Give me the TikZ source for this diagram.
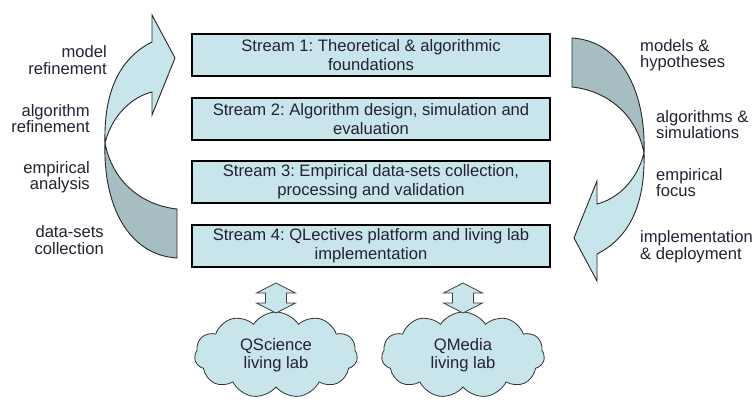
\documentclass[tikz,border=0pt]{standalone}
\usepackage{fontspec}
\setmainfont{Liberation Sans}
\usetikzlibrary{shapes.symbols}
\definecolor{lightfill}{RGB}{199,229,234}
\definecolor{darkfill}{RGB}{166,190,193}
\definecolor{txtcol}{RGB}{38,32,52}
\newcommand\qlightpart{(105,143) .. controls (104,105) and (112,62) .. (152,42) -- (152,15) -- (175,58) -- (152,115) -- (152,92) .. controls (132,97) and (112,115) .. (105,143) -- cycle}
\newcommand\qdarkpart{(105,143) .. controls (103,205) and (128,255) .. (177,258) -- (177,209) .. controls (140,205) and (112,180) .. (105,143) -- cycle}
\newcommand\qdblarrow[1]{(#1,283) -- ++(19.5,10) -- ++(-9,0) -- ++(0,10) -- ++(9,0) -- (#1,313) -- ++(-19.5,-10) -- ++(9,0) -- ++(0,-10) -- ++(-9,0) -- cycle}
\frenchspacing
\begin{document}
\begin{tikzpicture}[x=1pt,y=-1pt,
  streambox/.style={draw=black, line width=1.2pt, fill=lightfill, minimum width=358pt, minimum height=42pt, inner sep=0pt, align=center, text=txtcol, font=\fontsize{16.6}{19}\selectfont},
  lbl/.style={inner sep=0pt, text=txtcol, font=\fontsize{16.6}{16.5}\selectfont},
  lblL/.style={lbl, anchor=east, align=right},
  lblR/.style={lbl, anchor=west, align=left},
  cloudnode/.style={cloud, cloud ignores aspect, draw=black!80, line width=0.8pt, fill=lightfill, cloud puffs=11, cloud puff arc=115, minimum width=163pt, minimum height=86pt, inner sep=0pt, align=center, text=txtcol, font=\fontsize{16.6}{18}\selectfont},
  blockarrow/.style={draw=black!75, line width=0.8pt, fill=lightfill, line join=miter},
  lightarc/.style={draw=black!85, line width=0.9pt, fill=lightfill, line join=miter},
  darkarc/.style={draw=black!85, line width=0.9pt, fill=darkfill, line join=miter}]
\useasboundingbox[fill=white] (0,0) rectangle (755,399);

% curved arrows
\path[lightarc] \qlightpart;
\path[darkarc] \qdarkpart;
\begin{scope}[rotate around={180:(374.5,148)}]
  \path[lightarc] \qlightpart;
  \path[darkarc] \qdarkpart;
\end{scope}

% stream boxes
\node[streambox] (s1) at (371,55) {Stream 1: Theoretical \& algorithmic\\foundations};
\node[streambox] (s2) at (371,119) {Stream 2: Algorithm design, simulation and\\evaluation};
\node[streambox] (s3) at (371,182) {Stream 3: Empirical data-sets collection,\\processing and validation};
\node[streambox] (s4) at (371,246) {Stream 4: QLectives platform and living lab\\implementation};

% left labels
\node[lblL] (l1) at (107,60) {model\\refinement};
\node[lblL] (l2) at (90,118.5) {algorithm\\refinement};
\node[lblL] (l3) at (90,177) {empirical\\analysis};
\node[lblL] (l4) at (104,240) {data-sets\\collection};

% right labels
\node[lblR] (r1) at (640,55) {models \&\\hypotheses};
\node[lblR] (r2) at (656,124.5) {algorithms \&\\simulations};
\node[lblR] (r3) at (656,182.5) {empirical\\focus};
\node[lblR] (r4) at (640,246.5) {implementation\\\& deployment};

% clouds
\node[cloudnode] (qs) at (276,355) {QScience\\living lab};
\node[cloudnode] (qm) at (463,355) {QMedia\\living lab};

% double arrows
\path[blockarrow] \qdblarrow{276};
\path[blockarrow] \qdblarrow{463};
\end{tikzpicture}
\end{document}
